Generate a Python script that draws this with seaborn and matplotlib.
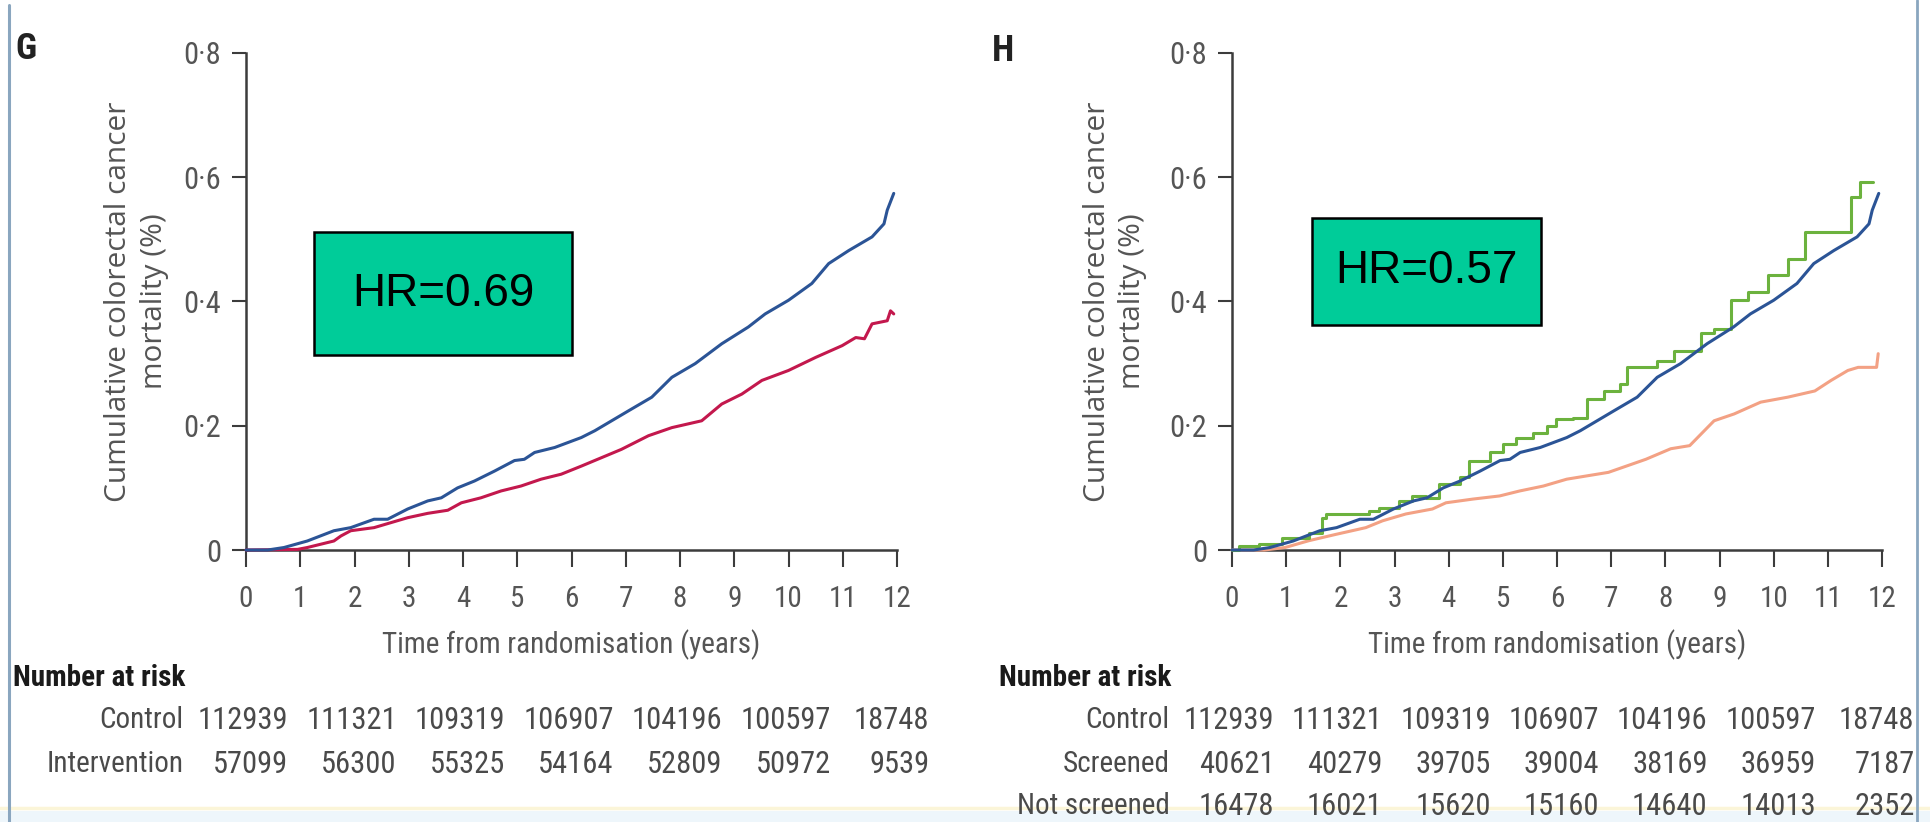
import matplotlib
matplotlib.use("Agg")
import numpy as np
import pandas as pd
import seaborn as sns
import matplotlib.pyplot as plt
from matplotlib import font_manager as fm
from matplotlib.patches import Rectangle
from matplotlib.lines import Line2D
from matplotlib.transforms import blended_transform_factory

# ---------------------------------------------------------------- data
# Cumulative colorectal cancer mortality (%) by years from randomisation
control_years = [0, 0.4, 0.70, 1.13, 1.62, 1.93, 2.36, 2.61, 2.98, 3.35, 3.6, 3.9,
                 4.21, 4.58, 4.95, 5.13, 5.32, 5.69, 6.18, 6.43, 7.05, 7.48, 7.85,
                 8.28, 8.77, 9.26, 9.57, 10.0, 10.43, 10.74, 11.11, 11.54, 11.76,
                 11.82, 11.94]
control_mort = [0, 0, 0.004, 0.0145, 0.031, 0.036, 0.0495, 0.0495, 0.066, 0.079,
                0.084, 0.100, 0.111, 0.127, 0.144, 0.146, 0.157, 0.165, 0.181,
                0.192, 0.224, 0.246, 0.278, 0.300, 0.332, 0.359, 0.380, 0.402,
                0.429, 0.461, 0.482, 0.504, 0.525, 0.547, 0.574]

intervention_years = [0, 0.95, 1.13, 1.62, 1.75, 1.93, 2.36, 2.67, 2.98, 3.35, 3.72,
                      3.97, 4.33, 4.70, 5.07, 5.44, 5.81, 6.18, 6.92, 7.42, 7.85,
                      8.40, 8.77, 9.14, 9.51, 10.0, 10.5, 10.99, 11.24, 11.4, 11.54,
                      11.82, 11.88, 11.94]
intervention_mort = [0, 0.001, 0.004, 0.0145, 0.0226, 0.031, 0.036, 0.044, 0.052,
                     0.059, 0.064, 0.076, 0.084, 0.095, 0.103, 0.114, 0.122, 0.135,
                     0.162, 0.184, 0.197, 0.208, 0.235, 0.251, 0.273, 0.289, 0.310,
                     0.329, 0.342, 0.340, 0.364, 0.369, 0.385, 0.380]

screened_years = [0, 0.12, 0.5, 0.92, 1.42, 1.66, 1.73, 2.53, 2.71, 3.09, 3.33, 3.58,
                  3.83, 4.20, 4.38, 4.76, 5.0, 5.25, 5.56, 5.81, 5.99, 6.30, 6.55,
                  6.86, 7.17, 7.29, 7.85, 8.16, 8.65, 8.90, 9.21, 9.52, 9.89, 10.26,
                  10.57, 11.43, 11.59, 11.84]
screened_mort = [0, 0.006, 0.010, 0.020, 0.028, 0.052, 0.058, 0.063, 0.068, 0.079,
                 0.087, 0.084, 0.106, 0.117, 0.144, 0.157, 0.170, 0.181, 0.189,
                 0.200, 0.211, 0.213, 0.243, 0.256, 0.267, 0.294, 0.305, 0.321,
                 0.350, 0.356, 0.402, 0.415, 0.442, 0.469, 0.512, 0.568, 0.592,
                 0.592]

not_screened_years = [0, 0.6, 0.98, 1.42, 1.91, 2.47, 2.78, 3.21, 3.70, 3.95, 4.45,
                      4.94, 5.31, 5.75, 6.18, 6.95, 7.64, 8.1, 8.45, 8.90, 9.27,
                      9.76, 10.26, 10.76, 11.06, 11.37, 11.56, 11.90, 11.93]
not_screened_mort = [0, 0, 0.004, 0.015, 0.025, 0.036, 0.047, 0.058, 0.066, 0.076,
                     0.082, 0.087, 0.095, 0.103, 0.114, 0.125, 0.146, 0.163, 0.168,
                     0.208, 0.219, 0.238, 0.246, 0.256, 0.273, 0.289, 0.294, 0.294,
                     0.316]

# Number at risk table
risk_years = [0, 2, 4, 6, 8, 10, 12]
control_at_risk = [112939, 111321, 109319, 106907, 104196, 100597, 18748]
intervention_at_risk = [57099, 56300, 55325, 54164, 52809, 50972, 9539]
screened_at_risk = [40621, 40279, 39705, 39004, 38169, 36959, 7187]
not_screened_at_risk = [16478, 16021, 15620, 15160, 14640, 14013, 2352]

x_ticks = list(range(13))
x_tick_labels = [str(t) for t in x_ticks]
y_ticks = [0, 0.2, 0.4, 0.6, 0.8]
y_tick_labels = ["0", "0·2", "0·4", "0·6", "0·8"]

panel_letters = ["G", "H"]
hazard_ratios = ["HR=0.69", "HR=0.57"]

colors = {
    "Control": "#2b5496",
    "Intervention": "#c3184d",
    "Screened": "#6cb23e",
    "Not screened": "#f3a184",
}

# ---------------------------------------------------------------- fonts
def first_available(names, fallback):
    for name in names:
        try:
            fm.findfont(fm.FontProperties(family=name), fallback_to_default=False)
            return name
        except ValueError:
            continue
    return fallback

NARROW = first_available(["Liberation Sans Narrow", "Arial Narrow",
                          "Roboto Condensed", "Open Sans Condensed"], "Liberation Sans")
ROUND = first_available(["Open Sans", "Noto Sans"], "DejaVu Sans")
BOXFONT = first_available(["Liberation Sans", "Arial"], "DejaVu Sans")

sns.set_theme(style="ticks")
plt.rcParams["font.family"] = [NARROW, "DejaVu Sans"]

TEXT_GREY = "#555555"
AXIS_GREY = "#3c3c3c"

W, H = 1930, 822
fig = plt.figure(figsize=(W / 100, H / 100), dpi=100)
fig.patch.set_facecolor("white")


def fy(px):
    return 1 - px / H


ax_g = fig.add_axes([246 / W, fy(550), 651 / W, 497 / H])
ax_h = fig.add_axes([1232 / W, fy(550), 650 / W, 497 / H])


def long_frame(series):
    frames = []
    for name, (xs, ys) in series.items():
        frames.append(pd.DataFrame({"years": xs, "mortality": ys, "group": name}))
    return pd.concat(frames, ignore_index=True)


def draw_curves(ax, series, steps=()):
    for name, xy in series.items():
        df = long_frame({name: xy})
        kws = dict(drawstyle="steps-post") if name in steps else {}
        sns.lineplot(data=df, x="years", y="mortality", hue="group",
                     palette={name: colors[name]}, estimator=None, errorbar=None,
                     linewidth=2.2, legend=False, clip_on=False, ax=ax, zorder=3,
                     **kws)


draw_curves(ax_g, {
    "Intervention": (intervention_years, intervention_mort),
    "Control": (control_years, control_mort),
})
draw_curves(ax_h, {
    "Not screened": (not_screened_years, not_screened_mort),
    "Screened": (screened_years, screened_mort),
    "Control": (control_years, control_mort),
}, steps=("Screened",))


def style_axes(ax, ylabel_x):
    ax.set_xlim(0, 12)
    ax.set_ylim(0, 0.8)
    ax.set_xticks(x_ticks)
    ax.set_xticklabels(x_tick_labels)
    ax.set_yticks(y_ticks)
    ax.set_yticklabels(y_tick_labels)
    for side in ("top", "right"):
        ax.spines[side].set_visible(False)
    for side in ("left", "bottom"):
        ax.spines[side].set_color(AXIS_GREY)
        ax.spines[side].set_linewidth(1.8)
    ax.tick_params(axis="x", direction="out", length=12, width=1.5, color=AXIS_GREY,
                   labelsize=21, labelcolor=TEXT_GREY, pad=13, bottom=True)
    ax.tick_params(axis="y", direction="out", length=10, width=1.5, color=AXIS_GREY,
                   labelsize=22, labelcolor=TEXT_GREY, pad=8, left=True)
    ax.set_facecolor("none")
    ax.grid(False)
    ax.set_xlabel("Time from randomisation (years)", fontsize=21, color=TEXT_GREY)
    ax.xaxis.set_label_coords(0.5, -0.19)
    ax.xaxis.label.set_va("center")
    ax.set_ylabel("Cumulative colorectal cancer\nmortality (%)",
                  family=[ROUND, "DejaVu Sans"], fontsize=21.5, color=TEXT_GREY,
                  linespacing=1.3)
    ax.yaxis.set_label_coords(ylabel_x, 0.5)
    ax.yaxis.label.set_va("center")


style_axes(ax_g, -0.168)
style_axes(ax_h, -0.180)


def hr_box(ax, text, x0, y0, x1, y1):
    ax.add_patch(Rectangle((x0, y0), x1 - x0, y1 - y0, transform=ax.transAxes,
                           facecolor="#00cc99", edgecolor="black", linewidth=1.8,
                           zorder=5, clip_on=False))
    ax.text((x0 + x1) / 2, (y0 + y1) / 2, text, transform=ax.transAxes,
            ha="center", va="center", fontsize=33, color="black",
            family=[BOXFONT, "DejaVu Sans"], zorder=6)


hr_box(ax_g, hazard_ratios[0], 0.1045, 0.393, 0.5008, 0.639)
hr_box(ax_h, hazard_ratios[1], 0.123, 0.4536, 0.475, 0.669)

# panel letters
fig.text(26 / W, fy(49), panel_letters[0], ha="center", va="center",
         fontsize=26, fontweight="bold", color="#222222")
fig.text(1003 / W, fy(51), panel_letters[1], ha="center", va="center",
         fontsize=26, fontweight="bold", color="#222222")


def risk_table(ax, rows):
    trans = blended_transform_factory(ax.transData, fig.transFigure)
    ax.text(-4.3, fy(678), "Number at risk", transform=trans, ha="left",
            va="center", fontsize=21, fontweight="bold", color="#1a1a1a")
    for (label, values), ypx in zip(rows, (720, 764, 806)):
        ax.text(-1.15, fy(ypx), label, transform=trans, ha="right", va="center",
                fontsize=21, color="#4a4a4a")
        for t, v in zip(risk_years, values):
            xr = min(t + 0.78, 12.6)
            ax.text(xr, fy(ypx), f"{v}", transform=trans, ha="right", va="center",
                    fontsize=22, color="#4a4a4a")


risk_table(ax_g, [("Control", control_at_risk),
                  ("Intervention", intervention_at_risk)])
risk_table(ax_h, [("Control", control_at_risk),
                  ("Screened", screened_at_risk),
                  ("Not screened", not_screened_at_risk)])

# slide frame: thin side rules and pale strip along the bottom
fig.add_artist(Rectangle((0, 0), 1, 11 / H, transform=fig.transFigure,
                         facecolor="#eef6fb", edgecolor="none", zorder=0))
fig.add_artist(Line2D([0, 1], [fy(808), fy(808)], transform=fig.transFigure,
                      color="#fbf5d8", linewidth=2.5, zorder=0))
fig.add_artist(Line2D([9 / W, 9 / W], [0, fy(5)], transform=fig.transFigure,
                      color="#8aa6bf", linewidth=2.2))
fig.add_artist(Line2D([1917 / W, 1917 / W], [0, 1], transform=fig.transFigure,
                      color="#8aa6bf", linewidth=2.0))

fig.savefig("out.png", dpi=100, facecolor="white")
